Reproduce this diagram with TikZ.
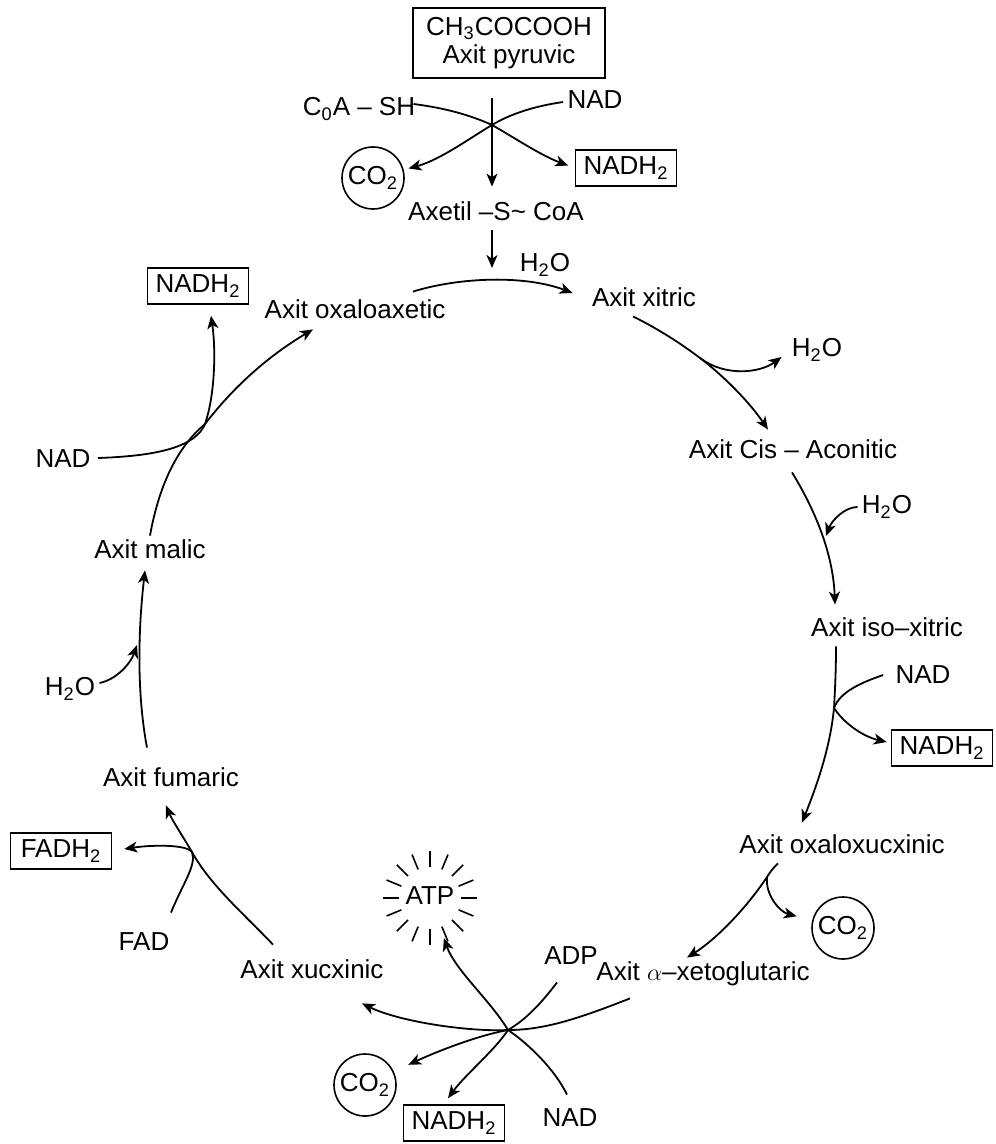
\documentclass[tikz,border=0pt]{standalone}
\usepackage{fontspec}
\setmainfont{Liberation Sans}
\usetikzlibrary{arrows.meta}
\tikzset{
  lbl/.style={font=\fontsize{13}{14}\selectfont, inner sep=2pt, text height=9.4pt, text depth=2.6pt},
  srcbox/.style={font=\fontsize{13}{14}\selectfont, draw, line width=0.8pt, align=center, minimum width=96pt, minimum height=35pt, inner sep=2pt},
  bx/.style={lbl, draw, line width=0.8pt, minimum width=50.5pt, minimum height=18pt},
  ring/.style={lbl, draw, circle, line width=0.8pt, minimum size=31pt, inner sep=0pt},
  flow/.style={line width=0.9pt, -{Stealth[length=6.5pt,width=5.5pt,inset=1.8pt]}},
  link/.style={line width=0.9pt},
  ray/.style={line width=0.8pt}
}
\begin{document}
\begin{tikzpicture}[x=0.5pt, y=-0.5pt]
\useasboundingbox (0,0) rectangle (995,1144);
% substances
\node[srcbox] (pyr) at (509,43) {CH\textsubscript{3}COCOOH\\Axit pyruvic};
\node[lbl] (coash) at (359,109) {C\textsubscript{0}A – SH};
\node[lbl] (nadA) at (595,102) {NAD};
\node[ring] (co2A) at (373,178) {CO\textsubscript{2}};
\node[bx] (nadhA) at (626,168) {NADH\textsubscript{2}};
\node[lbl] (axetil) at (496,214) {Axetil –S\textasciitilde{} CoA};
\node[lbl] (h2oA) at (545,265) {H\textsubscript{2}O};
\node[lbl] (oxalo) at (355,312) {Axit oxaloaxetic};
\node[lbl] (xitric) at (644,300) {Axit xitric};
\node[lbl] (h2oB) at (817,350) {H\textsubscript{2}O};
\node[lbl] (cis) at (793,452) {Axit Cis – Aconitic};
\node[lbl] (h2oC) at (887,507) {H\textsubscript{2}O};
\node[lbl] (iso) at (887,630) {Axit iso–xitric};
\node[lbl] (nadB) at (923,677) {NAD};
\node[bx] (nadhB) at (942,748) {NADH\textsubscript{2}};
\node[lbl] (oxsuc) at (842,847) {Axit oxaloxucxinic};
\node[ring] (co2B) at (843,928) {CO\textsubscript{2}};
\node[lbl] (adp) at (571,958) {ADP};
\node[lbl] (keto) at (703,974) {Axit $\alpha$–xetoglutaric};
\node[lbl, circle, minimum size=42pt] (atp) at (430,898) {ATP};
\node[lbl] (xuc) at (312,972) {Axit xucxinic};
\node[ring] (co2C) at (365,1085) {CO\textsubscript{2}};
\node[bx] (nadhC) at (454,1123) {NADH\textsubscript{2}};
\node[lbl] (nadC) at (570,1120) {NAD};
\node[lbl] (fad) at (144,944) {FAD};
\node[bx] (fadh) at (61,851) {FADH\textsubscript{2}};
\node[lbl] (fum) at (171,780) {Axit fumaric};
\node[lbl] (h2oD) at (70,689) {H\textsubscript{2}O};
\node[lbl] (malic) at (150,552) {Axit malic};
\node[lbl] (nadD) at (63,461) {NAD};
\node[bx] (nadhD) at (198,286) {NADH\textsubscript{2}};
% meeting points
\coordinate (pyrout) at (492,98);
\coordinate (hubA) at (492,125);
\coordinate (cycin) at (492,268);
\coordinate (hubB) at (700,358);
\coordinate (h2oCin) at (826,536);
\coordinate (hubI) at (834,708);
\coordinate (hubO) at (767,877);
\coordinate (hubE) at (508,1030);
\coordinate (hubF) at (192,852);
\coordinate (h2oDin) at (137,645);
\coordinate (hubG) at (205,424);
% ATP rays
\foreach \a in {0,22.5,...,337.5}
  \draw[ray] ([shift={(\a:31)}]atp.center) -- ([shift={(\a:47)}]atp.center);
% pyruvate to acetyl-CoA
\draw[flow, shorten >=5.5pt] (pyrout) -- (pyrout |- axetil.north);
\draw[flow, shorten >=3.5pt] ([shift={(-6,-5)}]coash.east) .. controls (445,108) and (470,115) .. (hubA) .. controls (515,138) and (540,155) .. (nadhA.west);
\draw[flow, shorten >=2.5pt] (nadA.west) .. controls (535,106) and (510,114) .. (hubA) .. controls (470,138) and (440,160) .. (co2A);
\draw[flow] (axetil.south -| cycin) -- (cycin);
% cycle, right side
\draw[flow] ([shift={(58,-4)}]oxalo.north) .. controls (460,277) and (525,275) .. ([shift={(-15,-7)}]xitric.west);
\draw[flow] ([shift={(-11,0)}]xitric.south) .. controls (660,330) and (680,343) .. (hubB) .. controls (725,377) and (750,403) .. ([shift={(-25,-6)}]cis.north);
\draw[flow] (hubB) .. controls (725,377) and (760,373) .. ([shift={(-6,7)}]h2oB.west);
\draw[flow] ([shift={(-1,4)}]cis.south) .. controls (812,505) and (833,550) .. ([shift={(-52,-9)}]iso.north);
\draw[flow] (h2oC.west) .. controls (845,507) and (832,520) .. (h2oCin);
\draw[flow] ([shift={(-51,0)}]iso.south) .. controls (836,670) and (835,690) .. (hubI) .. controls (830,750) and (815,790) .. ([shift={(-40,-8)}]oxsuc.north);
\draw[link] ([shift={(-8,-2)}]nadB.west) .. controls (860,683) and (840,692) .. (hubI);
\draw[flow] (hubI) .. controls (845,725) and (865,737) .. ([shift={(-4,-6)}]nadhB.west);
\draw[flow] ([shift={(-64,0)}]oxsuc.south) .. controls (774,867) and (770,872) .. (hubO) .. controls (745,910) and (715,940) .. ([shift={(-16,0)}]keto.north);
\draw[flow, shorten >=8pt] (hubO) .. controls (765,895) and (780,912) .. (co2B);
% cycle, bottom
\draw[flow] ([shift={(-73,8)}]keto.south) .. controls (580,1018) and (545,1030) .. (hubE) .. controls (470,1032) and (400,1022) .. ([shift={(50,15)}]xuc.south);
\draw[flow] (hubE) .. controls (490,1000) and (455,970) .. (atp);
\draw[link] ([shift={(-14,8)}]adp.south) .. controls (540,1005) and (525,1020) .. (hubE);
\draw[link] ([shift={(-3,-9)}]nadC.north) .. controls (555,1070) and (530,1045) .. (hubE);
\draw[flow, shorten >=8pt] (hubE) .. controls (480,1035) and (440,1050) .. (co2C);
\draw[flow] (hubE) .. controls (495,1050) and (465,1075) .. ([shift={(-6,-6)}]nadhC.north);
% cycle, left side
\draw[flow] ([shift={(-39,-11)}]xuc.north) .. controls (245,915) and (210,885) .. (hubF) .. controls (182,835) and (172,820) .. ([shift={(-5,9)}]fum.south);
\draw[flow] ([shift={(27,-15)}]fad.north) .. controls (182,885) and (197,865) .. (hubF) .. controls (186,844) and (150,845) .. ([shift={(12,-2)}]fadh.east);
\draw[flow] ([shift={(-24,-16)}]fum.north) .. controls (138,700) and (137,640) .. ([shift={(-5,2)}]malic.south);
\draw[flow] ([shift={(0,-6)}]h2oD.east) .. controls (115,680) and (130,665) .. (h2oDin);
\draw[flow] (malic.north) .. controls (160,480) and (180,445) .. (hubG) .. controls (235,385) and (270,355) .. ([shift={(-42,1)}]oxalo.south);
\draw[flow] ([shift={(3,-3)}]nadD.east) .. controls (160,456) and (196,446) .. (hubG) .. controls (215,395) and (216,350) .. ([shift={(13,11)}]nadhD.south);
\end{tikzpicture}
\end{document}
